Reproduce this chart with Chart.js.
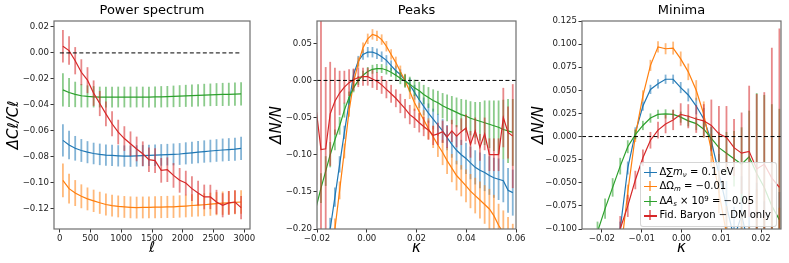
<!DOCTYPE html>
<html>
<head>
<meta charset="utf-8">
<script src="https://cdn.jsdelivr.net/npm/chart.js@4.4.1/dist/chart.umd.min.js"></script>
<style>
html, body { margin: 0; padding: 0; background: #fff; }
#wrap { position: relative; width: 789px; height: 263px; overflow: hidden; }
canvas { position: absolute; left: 0; top: 0; }
#legend {
  position: absolute; left: 639.5px; top: 161.5px; width: 137px; height: 65px;
  box-sizing: border-box; background: rgba(255,255,255,0.8);
  border: 1px solid rgba(204,204,204,0.8); border-radius: 3px; padding-top: 2px;
  font-family: 'DejaVu Sans'; font-size: 10px; color: #000;
}
#legend .row { position: relative; height: 14.6px; line-height: 14.6px; padding-left: 19px; white-space: nowrap; }
#legend .h { position: absolute; left: 3px; top: 1px; width: 13px; height: 12px; }
#legend .h::before { content: ''; position: absolute; left: 0; right: 0; top: 6px; height: 1.3px; background: var(--c); }
#legend .h::after { content: ''; position: absolute; left: 5.7px; width: 1.6px; top: 1px; bottom: 1px; background: var(--c); opacity: 0.6; }
#legend sub, #legend sup { font-size: 70%; position: relative; vertical-align: baseline; }
#legend sub { top: 0.3em; }
#legend sup { top: -0.45em; }
</style>
</head>
<body>
<div id="wrap">
  <canvas id="ps" width="789" height="263"></canvas>
  <canvas id="pk" width="789" height="263"></canvas>
  <canvas id="mn" width="789" height="263"></canvas>
  <div id="legend">
    <div class="row"><span class="h" style="--c:#1f77b4"></span>Δ∑<i>m</i><sub><i>ν</i></sub> = 0.1 eV</div>
    <div class="row"><span class="h" style="--c:#ff7f0e"></span>ΔΩ<sub><i>m</i></sub> = −0.01</div>
    <div class="row"><span class="h" style="--c:#2ca02c"></span>Δ<i>A</i><sub><i>s</i></sub> × 10<sup>9</sup> = −0.05</div>
    <div class="row"><span class="h" style="--c:#d62728"></span>Fid. Baryon − DM only</div>
  </div>
</div>
<script>
// ---- power spectrum ----
var ell = [50,150,250,350,450,550,650,750,850,950,1050,1150,1250,1350,1450,1550,1650,1750,1850,1950,2050,2150,2250,2350,2450,2550,2650,2750,2850,2950];
var psNu = [-0.0674,-0.071,-0.0735,-0.0752,-0.0765,-0.0775,-0.0782,-0.0787,-0.079,-0.0793,-0.0795,-0.0796,-0.0794,-0.0792,-0.079,-0.0788,-0.0786,-0.0784,-0.0782,-0.0779,-0.0774,-0.077,-0.0765,-0.076,-0.0756,-0.0752,-0.0748,-0.0745,-0.0742,-0.0736];
var psNuErr = [0.0125,0.011,0.0095,0.0088,0.0085,0.0083,0.0083,0.0082,0.0082,0.0082,0.0082,0.0082,0.0082,0.0082,0.0082,0.0083,0.0083,0.0083,0.0084,0.0084,0.0085,0.0085,0.0086,0.0086,0.0087,0.0087,0.0088,0.0088,0.0089,0.009];
var psOm = [-0.0982,-0.1046,-0.108,-0.1105,-0.1125,-0.114,-0.1155,-0.1168,-0.1177,-0.1183,-0.1187,-0.119,-0.1192,-0.1191,-0.119,-0.1189,-0.1188,-0.1187,-0.1186,-0.1183,-0.118,-0.1176,-0.1173,-0.117,-0.1166,-0.1162,-0.1158,-0.1155,-0.1152,-0.1149];
var psOmErr = [0.013,0.0115,0.01,0.0092,0.0088,0.0086,0.0085,0.0085,0.0084,0.0084,0.0084,0.0084,0.0084,0.0084,0.0084,0.0085,0.0085,0.0085,0.0086,0.0086,0.0087,0.0087,0.0088,0.0088,0.0089,0.0089,0.009,0.009,0.0091,0.0091];
var psAs = [-0.0285,-0.0305,-0.032,-0.033,-0.0335,-0.0338,-0.034,-0.034,-0.034,-0.034,-0.034,-0.034,-0.034,-0.034,-0.034,-0.0339,-0.0338,-0.0337,-0.0335,-0.0333,-0.0331,-0.0329,-0.0327,-0.0325,-0.0323,-0.0321,-0.032,-0.0319,-0.0318,-0.0316];
var psAsErr = [0.0128,0.0112,0.0098,0.009,0.0085,0.0082,0.008,0.008,0.008,0.008,0.008,0.008,0.008,0.008,0.008,0.0081,0.0082,0.0082,0.0083,0.0084,0.0085,0.0085,0.0086,0.0087,0.0087,0.0088,0.0089,0.0089,0.009,0.009];
var psBar = [0.0051,0.0018,-0.006,-0.0149,-0.021,-0.031,-0.039,-0.047,-0.0546,-0.061,-0.066,-0.07,-0.074,-0.0777,-0.0823,-0.083,-0.0905,-0.09,-0.0944,-0.0982,-0.1003,-0.1046,-0.108,-0.111,-0.111,-0.1149,-0.1174,-0.1156,-0.1149,-0.1192];
var psBarErr = [0.0125,0.011,0.0105,0.01,0.01,0.0098,0.0097,0.0096,0.0096,0.0095,0.0095,0.0095,0.0095,0.0095,0.0095,0.0095,0.0095,0.0095,0.0095,0.0095,0.0095,0.0095,0.0095,0.0095,0.0094,0.0094,0.0093,0.0092,0.0091,0.009];
var psXTicks = [0,500,1000,1500,2000,2500,3000];
var psYTicks = [0.02,0,-0.02,-0.04,-0.06,-0.08,-0.1,-0.12];

// ---- peaks ----
var kPk = [-0.0203,-0.0184,-0.0165,-0.0147,-0.0128,-0.0109,-0.009,-0.0071,-0.0053,-0.0034,-0.0015,0.0004,0.0023,0.0041,0.006,0.0079,0.0098,0.0117,0.0135,0.0154,0.0173,0.0192,0.0211,0.0229,0.0248,0.0267,0.0286,0.0305,0.0323,0.0342,0.0361,0.038,0.0399,0.0417,0.0436,0.0455,0.0474,0.0493,0.0511,0.053,0.0549,0.0568,0.0587];
var pkNu = [-0.33,-0.29,-0.245,-0.2,-0.157,-0.113,-0.07,-0.03,0.008,0.026,0.035,0.038,0.038,0.036,0.032,0.027,0.02,0.013,0.008,0,-0.006,-0.016,-0.026,-0.035,-0.044,-0.052,-0.06,-0.068,-0.077,-0.086,-0.094,-0.1,-0.105,-0.111,-0.117,-0.121,-0.124,-0.128,-0.131,-0.133,-0.135,-0.148,-0.151];
var pkNuErr = [0.015,0.015,0.015,0.015,0.013,0.011,0.009,0.008,0.007,0.007,0.007,0.007,0.007,0.007,0.007,0.007,0.007,0.007,0.007,0.008,0.009,0.01,0.011,0.012,0.013,0.014,0.015,0.016,0.017,0.018,0.019,0.02,0.021,0.022,0.023,0.024,0.025,0.026,0.027,0.028,0.029,0.03,0.031];
var pkOm = [-0.45,-0.38,-0.31,-0.253,-0.2,-0.148,-0.095,-0.041,-0.003,0.024,0.044,0.056,0.062,0.06,0.055,0.046,0.035,0.024,0.012,0,-0.015,-0.03,-0.042,-0.053,-0.065,-0.076,-0.087,-0.097,-0.108,-0.118,-0.128,-0.135,-0.142,-0.149,-0.155,-0.161,-0.167,-0.173,-0.182,-0.195,-0.205,-0.215,-0.225];
var pkOmErr = [0.016,0.016,0.016,0.016,0.014,0.012,0.01,0.008,0.007,0.007,0.007,0.007,0.007,0.007,0.007,0.007,0.007,0.008,0.008,0.009,0.01,0.011,0.012,0.013,0.014,0.015,0.016,0.017,0.018,0.019,0.02,0.021,0.022,0.023,0.024,0.025,0.026,0.027,0.028,0.029,0.03,0.031,0.032];
var pkAs = [-0.17,-0.145,-0.122,-0.1,-0.08,-0.061,-0.04,-0.023,-0.01,0,0.007,0.012,0.015,0.016,0.016,0.014,0.011,0.007,0.003,-0.001,-0.005,-0.01,-0.014,-0.019,-0.023,-0.027,-0.03,-0.034,-0.037,-0.04,-0.043,-0.046,-0.048,-0.051,-0.053,-0.055,-0.057,-0.059,-0.061,-0.063,-0.066,-0.068,-0.07];
var pkAsErr = [0.02,0.02,0.02,0.017,0.014,0.012,0.01,0.008,0.006,0.006,0.006,0.006,0.006,0.006,0.006,0.006,0.006,0.007,0.008,0.009,0.01,0.011,0.012,0.013,0.014,0.015,0.016,0.017,0.018,0.019,0.02,0.021,0.022,0.023,0.024,0.026,0.03,0.032,0.034,0.036,0.04,0.043,0.045];
var pkBar = [-0.04,-0.093,-0.092,-0.045,-0.028,-0.017,-0.009,-0.003,0.001,0.004,0.005,0.005,0.002,-0.001,-0.006,-0.012,-0.018,-0.024,-0.031,-0.038,-0.046,-0.051,-0.057,-0.062,-0.067,-0.074,-0.072,-0.069,-0.076,-0.068,-0.075,-0.069,-0.064,-0.086,-0.068,-0.09,-0.072,-0.1,-0.1,-0.1,-0.05,-0.07,-0.075];
var pkBarErr = [0.1,0.3,0.11,0.07,0.045,0.03,0.022,0.018,0.015,0.013,0.012,0.012,0.012,0.012,0.012,0.012,0.012,0.012,0.013,0.013,0.013,0.013,0.013,0.013,0.013,0.013,0.015,0.015,0.015,0.015,0.015,0.018,0.018,0.018,0.018,0.018,0.022,0.022,0.022,0.022,0.04,0.035,0.07];
var pkXTicks = [-0.02,0,0.02,0.04,0.06];
var pkYTicks = [0.05,0,-0.05,-0.1,-0.15,-0.2];

// ---- minima ----
var kMn = [-0.0211,-0.0192,-0.0173,-0.0154,-0.0135,-0.0116,-0.0097,-0.0078,-0.0059,-0.004,-0.0021,-0.0002,0.0017,0.0037,0.0056,0.0075,0.0094,0.0113,0.0132,0.0151,0.017,0.0189,0.0208,0.0227,0.0246];
var mnNu = [-0.3,-0.24,-0.17,-0.1,-0.034,0.004,0.033,0.051,0.057,0.062,0.062,0.053,0.045,0.033,0.019,-0.005,-0.04,-0.075,-0.11,-0.085,-0.12,-0.11,-0.14,-0.13,-0.15];
var mnNuErr = [0.01,0.01,0.009,0.008,0.007,0.006,0.005,0.005,0.005,0.005,0.005,0.006,0.007,0.009,0.012,0.016,0.021,0.027,0.034,0.042,0.05,0.06,0.07,0.08,0.09];
var mnOm = [-0.45,-0.35,-0.25,-0.13,-0.06,0.001,0.044,0.077,0.097,0.095,0.0957,0.084,0.07,0.05,0.024,-0.015,-0.06,-0.105,-0.14,-0.13,-0.15,-0.12,-0.16,-0.14,-0.17];
var mnOmErr = [0.012,0.011,0.01,0.009,0.008,0.007,0.006,0.006,0.006,0.006,0.007,0.008,0.009,0.011,0.014,0.018,0.023,0.03,0.037,0.045,0.053,0.063,0.073,0.083,0.093];
var mnAs = [-0.103,-0.078,-0.055,-0.032,-0.011,0.002,0.012,0.02,0.024,0.0245,0.024,0.021,0.017,0.014,0.008,-0.002,-0.012,-0.018,-0.024,-0.03,-0.022,-0.04,-0.055,-0.075,-0.09];
var mnAsErr = [0.011,0.011,0.01,0.009,0.007,0.005,0.005,0.005,0.005,0.005,0.005,0.006,0.006,0.007,0.009,0.012,0.017,0.023,0.03,0.04,0.05,0.087,0.1,0.11,0.12];
var mnBar = [-0.2,-0.17,-0.135,-0.1,-0.075,-0.047,-0.023,-0.004,0.007,0.0135,0.018,0.024,0.022,0.019,0.017,0.012,0.003,-0.001,-0.012,-0.018,-0.016,-0.035,-0.03,-0.045,-0.055];
var mnBarErr = [0.02,0.018,0.016,0.014,0.012,0.01,0.009,0.009,0.009,0.01,0.011,0.012,0.013,0.015,0.018,0.028,0.03,0.034,0.031,0.044,0.071,0.081,0.078,0.141,0.172];
var mnXTicks = [-0.02,-0.01,0,0.01,0.02];
var mnYTicks = [0.125,0.1,0.075,0.05,0.025,0,-0.025,-0.05,-0.075,-0.1];

var blue = '#1f77b4', orange = '#ff7f0e', green = '#2ca02c', red = '#d62728';

Chart.defaults.font.family = 'DejaVu Sans';
Chart.defaults.color = '#222';

function fade(hex) {
  var n = parseInt(hex.slice(1), 16);
  return 'rgba(' + (n >> 16) + ',' + ((n >> 8) & 255) + ',' + (n & 255) + ',0.55)';
}
function fmt(d) {
  return function (v) { return Number(v).toFixed(d).replace('-', '\u2212'); };
}

// vertical error bars, drawn under each line
var errorBars = {
  id: 'errorBars',
  beforeDatasetDraw: function (chart, args) {
    var ds = chart.data.datasets[args.index];
    if (!ds.err) return;
    var ctx = chart.ctx, a = chart.chartArea, xs = chart.scales.x, ys = chart.scales.y;
    ctx.save();
    ctx.beginPath();
    ctx.rect(a.left, a.top, a.right - a.left, a.bottom - a.top);
    ctx.clip();
    ctx.strokeStyle = fade(ds.borderColor);
    ctx.lineWidth = 1.8;
    ds.data.forEach(function (p, i) {
      var px = xs.getPixelForValue(p.x);
      ctx.beginPath();
      ctx.moveTo(px, ys.getPixelForValue(p.y - ds.err[i]));
      ctx.lineTo(px, ys.getPixelForValue(p.y + ds.err[i]));
      ctx.stroke();
    });
    ctx.restore();
  }
};

var frame = {
  id: 'frame',
  afterDraw: function (chart) {
    var ctx = chart.ctx, a = chart.chartArea;
    ctx.save();
    ctx.strokeStyle = '#6e6e6e';
    ctx.lineWidth = 1.2;
    ctx.strokeRect(a.left, a.top, a.right - a.left, a.bottom - a.top);
    ctx.restore();
  }
};

function series(xs, ys, es, col, ord) {
  return {
    data: xs.map(function (x, i) { return {x: x, y: ys[i]}; }),
    err: es, borderColor: col, borderWidth: 1.2, pointRadius: 0, order: ord
  };
}

function panel(id, o) {
  new Chart(document.getElementById(id), {
    type: 'line',
    data: {
      datasets: [
        {data: [{x: o.zero[0], y: 0}, {x: o.zero[1], y: 0}], borderColor: '#000', borderWidth: 1,
         borderDash: [4, 2.5], pointRadius: 0, order: 0}
      ].concat(o.sets)
    },
    options: {
      responsive: false, animation: false, devicePixelRatio: 1, events: [],
      layout: {padding: {left: o.left - o.yw, right: 789 - o.right, top: 0, bottom: 0}},
      plugins: {
        legend: {display: false}, tooltip: {enabled: false},
        title: {display: true, text: o.title, fullSize: false, color: '#000',
                font: {size: 13, weight: 'normal'}, padding: {top: 3, bottom: 2.4}}
      },
      scales: {
        x: {
          type: 'linear', min: o.xmin, max: o.xmax,
          afterBuildTicks: function (s) { s.ticks = o.xTicks.map(function (v) { return {value: v}; }); },
          afterFit: function (s) { s.height = 34; },
          ticks: {callback: fmt(o.xd), font: {size: 8.6}, padding: 1, maxRotation: 0, autoSkip: false},
          grid: {drawOnChartArea: false, tickLength: 3.5, color: '#333'},
          border: {display: false},
          title: {display: true, text: o.xTitle, color: '#000', font: {size: 15, style: 'italic'},
                  padding: {top: 0, bottom: 6}}
        },
        y: {
          min: o.ymin, max: o.ymax,
          afterBuildTicks: function (s) { s.ticks = o.yTicks.map(function (v) { return {value: v}; }); },
          afterFit: function (s) { s.width = o.yw; },
          ticks: {callback: fmt(o.yd), font: {size: 8.6}, padding: 1.5},
          grid: {drawOnChartArea: false, tickLength: 3.5, color: '#333'},
          border: {display: false},
          title: {display: true, text: o.yTitle, color: '#000', font: {size: 15, style: 'italic'},
                  padding: {top: 1, bottom: 0}}
        }
      }
    },
    plugins: [errorBars, frame]
  });
}

panel('ps', {
  title: 'Power spectrum', left: 54, right: 250, yw: 50,
  xmin: -95, xmax: 3095, ymin: -0.1357, ymax: 0.0246, zero: [0, 2950],
  xTicks: psXTicks, yTicks: psYTicks, xd: 0, yd: 2, xTitle: 'ℓ', yTitle: 'ΔCℓ/Cℓ',
  sets: [
    series(ell, psNu, psNuErr, blue, 4),
    series(ell, psOm, psOmErr, orange, 3),
    series(ell, psAs, psAsErr, green, 2),
    series(ell, psBar, psBarErr, red, 1)
  ]
});

panel('pk', {
  title: 'Peaks', left: 317, right: 516, yw: 50,
  xmin: -0.02, xmax: 0.06, ymin: -0.2, ymax: 0.08, zero: [-0.02, 0.06],
  xTicks: pkXTicks, yTicks: pkYTicks, xd: 2, yd: 2, xTitle: 'κ', yTitle: 'ΔN/N',
  sets: [
    series(kPk, pkNu, pkNuErr, blue, 4),
    series(kPk, pkOm, pkOmErr, orange, 3),
    series(kPk, pkAs, pkAsErr, green, 2),
    series(kPk, pkBar, pkBarErr, red, 1)
  ]
});

panel('mn', {
  title: 'Minima', left: 582, right: 781, yw: 53,
  xmin: -0.025, xmax: 0.025, ymin: -0.1, ymax: 0.125, zero: [-0.025, 0.025],
  xTicks: mnXTicks, yTicks: mnYTicks, xd: 2, yd: 3, xTitle: 'κ', yTitle: 'ΔN/N',
  sets: [
    series(kMn, mnNu, mnNuErr, blue, 4),
    series(kMn, mnOm, mnOmErr, orange, 3),
    series(kMn, mnAs, mnAsErr, green, 2),
    series(kMn, mnBar, mnBarErr, red, 1)
  ]
});
</script>
</body>
</html>
